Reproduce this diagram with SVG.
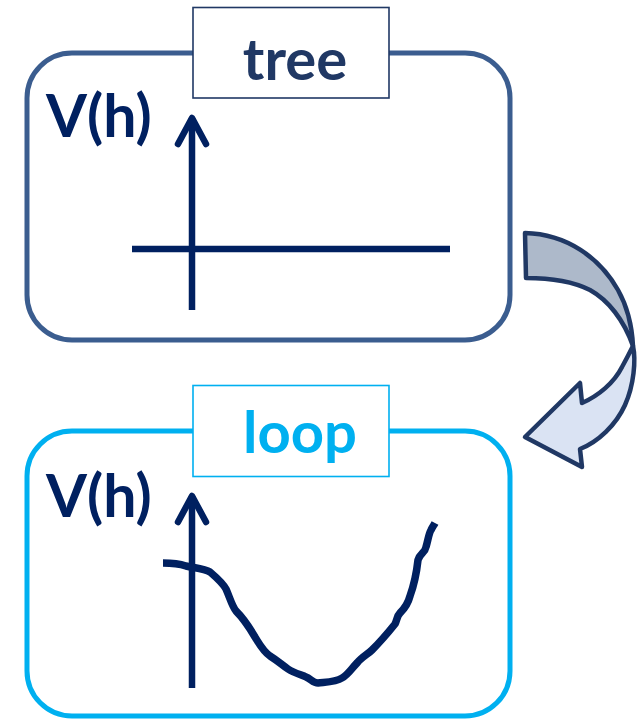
<svg xmlns="http://www.w3.org/2000/svg" width="640" height="720" viewBox="0 0 640 720">
<style>
.axis{fill:none;stroke:#002060;stroke-width:6.5;stroke-linecap:butt}
.head{fill:none;stroke:#002060;stroke-width:6.5;stroke-linecap:round;stroke-linejoin:round}
.vh{font-family:Lato,"Open Sans",sans-serif;font-weight:bold;font-size:59px;fill:#002060}
.lbl{font-family:Lato,"Open Sans",sans-serif;font-weight:bold;font-size:58px;text-anchor:middle}
</style>
<rect width="640" height="720" fill="#ffffff"/>
<g id="tree">
  <rect x="27" y="53" width="483" height="287" rx="45" ry="45" fill="none" stroke="#3B5D8F" stroke-width="5"/>
  <rect x="193" y="7.5" width="196" height="90.5" fill="#ffffff" stroke="#203864" stroke-width="1.6"/>
  <text class="lbl" x="295" y="80" fill="#203864">tree</text>
  <text class="vh" x="46" y="137">V(h)</text>
  <line class="axis" x1="132" y1="249" x2="450" y2="249"/>
  <line class="axis" x1="192" y1="310" x2="192" y2="118"/>
  <polyline class="head" points="178,144 192,118 206,144"/>
</g>
<g id="loop">
  <rect x="27" y="431" width="483" height="285" rx="45" ry="45" fill="none" stroke="#00B0F0" stroke-width="5"/>
  <rect x="193" y="385.5" width="196" height="91" fill="#ffffff" stroke="#00B0F0" stroke-width="1.6"/>
  <text class="lbl" x="300" y="453" fill="#00B0F0">loop</text>
  <text class="vh" x="46" y="517">V(h)</text>
  <line class="axis" x1="192" y1="688" x2="192" y2="496"/>
  <polyline class="head" points="178,522 192,496 206,522"/>
  <path d="M163,563 C172,563 180,564 186,566 C195,568 205,569 210,572 C217,578 222,582 226,589 C230,598 232,606 236,611 C243,618 248,625 255,637 C260,645 263,651 270,656 C278,661 282,665 288,669 C294,673 302,675 306,677 C311,679 313,683 318,683 C327,682 336,682 342,678 C348,675 352,668 357,663 C362,657 368,654 372,650 C380,642 387,634 395,624 C397,620 397,616 400,613 C405,608 408,604 410,596 C414,585 416,578 418,560 C420,553 425,553 426,547 C428,540 429,533 431,530 C433,526 434,525 435,523" fill="none" stroke="#002060" stroke-width="7.5" stroke-linejoin="round" stroke-linecap="butt"/>
</g>
<g id="connectors">
  <path d="M525,233 C567,234 600,258 618,290 C627,306 632,325 633,346 C624,320 608,300 590,290 C570,280 548,278 526,278 Z" fill="#ADB9CA" stroke="#203864" stroke-width="4.5" stroke-linejoin="round"/>
  <path d="M633,346 C636,360 634,385 625,405 C616,425 598,442 580,449 L582,467 L525,437 L580,383 L582,403 C598,396 614,383 622,367 C627,358 630,352 633,346 Z" fill="#DAE3F3" stroke="#203864" stroke-width="4.5" stroke-linejoin="round"/>
</g>
</svg>
